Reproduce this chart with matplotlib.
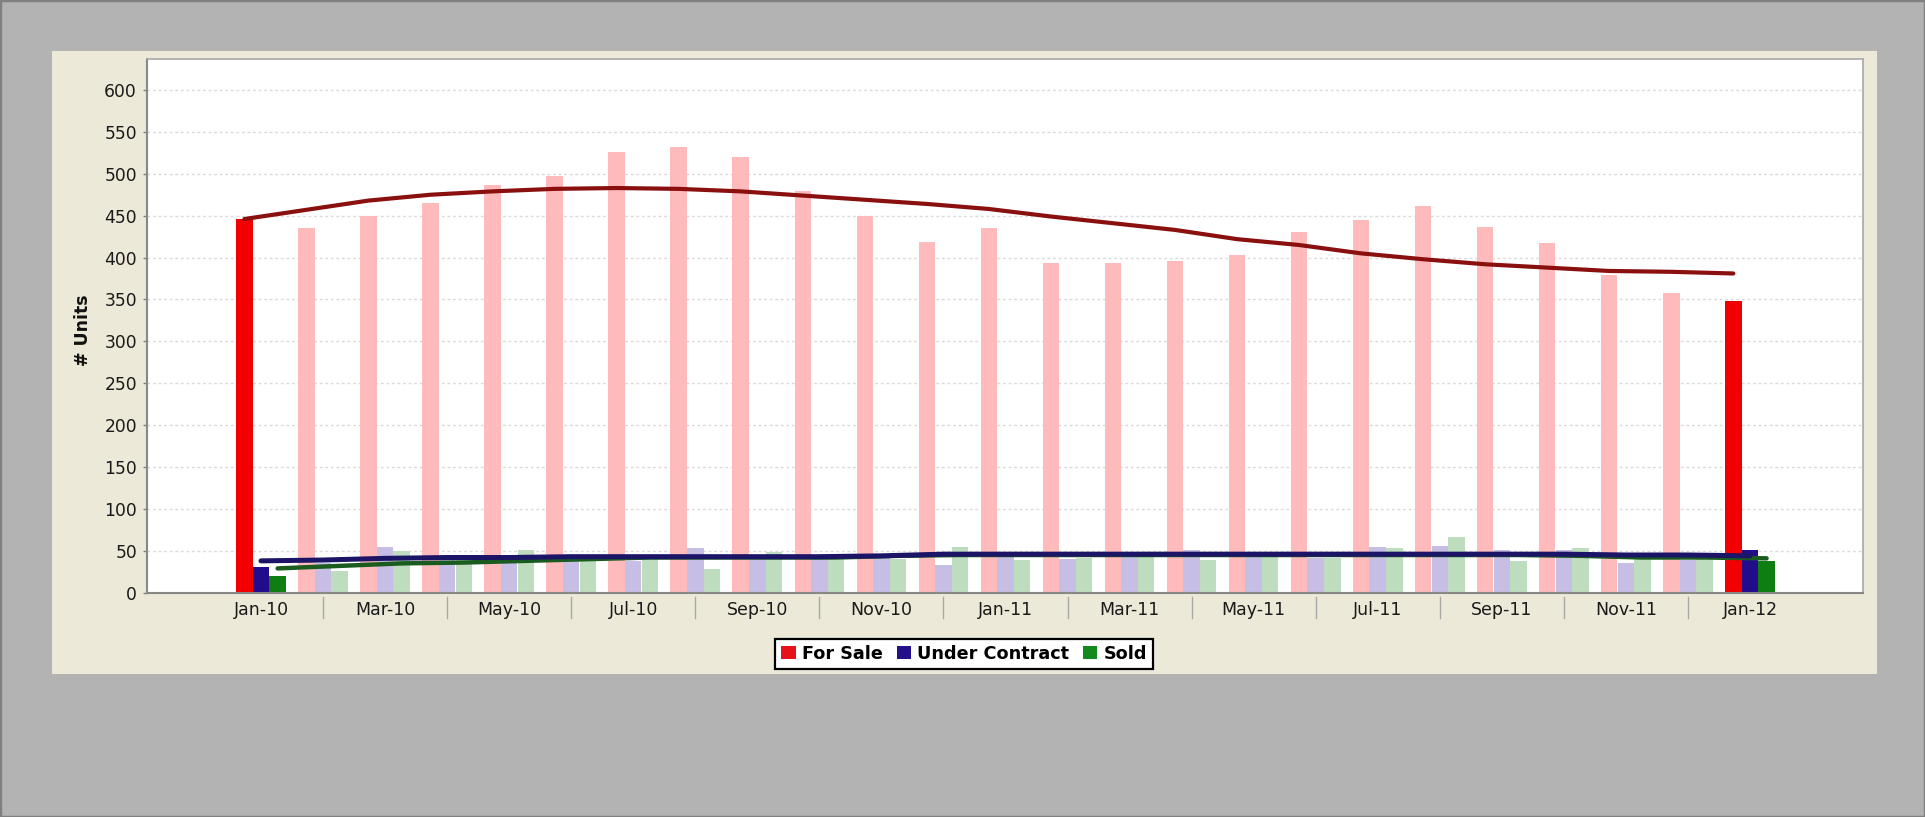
import matplotlib
matplotlib.use("Agg")
import matplotlib.pyplot as plt
from matplotlib.patches import Rectangle, Patch
import numpy as np

plt.rcParams['font.family'] = ['DejaVu Sans']

months = ["Jan-10", "Feb-10", "Mar-10", "Apr-10", "May-10", "Jun-10", "Jul-10", "Aug-10",
          "Sep-10", "Oct-10", "Nov-10", "Dec-10", "Jan-11", "Feb-11", "Mar-11", "Apr-11",
          "May-11", "Jun-11", "Jul-11", "Aug-11", "Sep-11", "Oct-11", "Nov-11", "Dec-11", "Jan-12"]

for_sale = [446, 435, 450, 465, 487, 497, 526, 532, 520, 479, 450, 418, 435, 393, 393, 396,
            403, 430, 445, 462, 437, 417, 379, 358, 348]
under_contract = [31, 36, 55, 42, 38, 40, 38, 53, 44, 42, 42, 33, 44, 40, 44, 51,
                  43, 42, 55, 56, 51, 51, 36, 39, 51]
sold = [20, 26, 50, 40, 51, 40, 40, 28, 49, 42, 40, 55, 39, 42, 43, 39,
        43, 41, 53, 67, 38, 53, 42, 42, 38]

for_sale_trend = [446, 457, 468, 475, 479, 482, 483, 482, 479, 474, 469, 464, 458, 449, 441, 433,
                  422, 415, 405, 398, 392, 388, 384, 383, 381]
under_contract_trend = [38, 39, 41, 42, 42, 43, 43, 43, 43, 43, 44, 46, 46, 46, 46, 46,
                        46, 46, 46, 46, 46, 46, 45, 45, 44]
sold_trend = [29, 32, 35, 36, 38, 40, 42, 42, 42, 42, 44, 45, 45, 45, 45, 45,
              45, 45, 45, 45, 45, 44, 42, 42, 41]

series_labels = ["For Sale", "Under Contract", "Sold"]
y_ticks = list(range(0, 601, 50))

W, H = 1925, 817
fig = plt.figure(figsize=(W / 100, H / 100), dpi=100, facecolor='#B3B3B3')

# outer border
fig.patches.append(Rectangle((0, 0), 1, 1, transform=fig.transFigure, fill=False,
                             edgecolor='#808080', linewidth=2.5, zorder=-10))
# beige panel
bx0, bx1, by0, by1 = 51.7, 1876.7, 50.7, 674.3
fig.patches.append(Rectangle((bx0 / W, 1 - by1 / H), (bx1 - bx0) / W, (by1 - by0) / H,
                             transform=fig.transFigure, facecolor='#ECE9D8',
                             edgecolor='none', zorder=-10))

px0, px1, py0, py1 = 147.3, 1863.3, 59.3, 592.7
ax = fig.add_axes([px0 / W, 1 - py1 / H, (px1 - px0) / W, (py1 - py0) / H])
ax.set_zorder(2)
ax.set_facecolor('white')

x = np.arange(len(months))
n = len(months)
bw = 0.265
off = 0.268

fs_cols = ['#F20000' if i in (0, n - 1) else '#FFBBBB' for i in range(n)]
uc_cols = ['#210D8C' if i in (0, n - 1) else '#C6BEE4' for i in range(n)]
sd_cols = ['#0E7E12' if i in (0, n - 1) else '#BEDDBE' for i in range(n)]

ax.bar(x - off, for_sale, width=bw, color=fs_cols, zorder=2, linewidth=0)
ax.bar(x, under_contract, width=bw, color=uc_cols, zorder=2, linewidth=0)
ax.bar(x + off, sold, width=bw, color=sd_cols, zorder=2, linewidth=0)

ax.plot(x - off, for_sale_trend, color='#8A1010', lw=3.0, zorder=4, solid_capstyle='round')
ax.plot(x + off, sold_trend, color='#1A5C1F', lw=3.2, zorder=4, solid_capstyle='round')
ax.plot(x, under_contract_trend, color='#1C1466', lw=3.6, zorder=5, solid_capstyle='round')

ymax = (py1 - py0) / ((py1 - 90.0) / 600.0)
ax.set_ylim(0, ymax)
ppm = 62.04
ax.set_xlim((px0 - 261.0) / ppm, (px1 - 261.0) / ppm)

ax.set_yticks(y_ticks)
ax.set_yticklabels([str(v) for v in y_ticks])
ax.yaxis.grid(True, color='#DADADA', linestyle=(0, (2, 2)), linewidth=1.0)
ax.xaxis.grid(False)
ax.set_axisbelow(True)

ax.set_xticks(x[::2])
ax.set_xticklabels(months[::2])
ax.tick_params(axis='x', length=0, pad=6, labelsize=12.5, labelcolor='#1A1A1A')
ax.tick_params(axis='y', length=3, width=1, color='#808080', pad=4.5, labelsize=12.3,
               labelcolor='#1A1A1A')

for s in ['top', 'right']:
    ax.spines[s].set_color('#A8A8A8')
    ax.spines[s].set_linewidth(1.2)
for s in ['left', 'bottom']:
    ax.spines[s].set_color('#888888')
    ax.spines[s].set_linewidth(1.5)

# category separators below the axis
ah = py1 - py0
for xi in x[1::2]:
    ax.plot([xi, xi], [-4 / ah, -25.6 / ah], transform=ax.get_xaxis_transform(),
            color='#A8A8A8', lw=1, clip_on=False)

fig.text(83.5 / W, 1 - 330 / H, '# Units', rotation=90, ha='center', va='center',
         fontweight='bold', fontsize=12.5, color='#111111')

handles = [Patch(facecolor='#E8101A', edgecolor='none'),
           Patch(facecolor='#24108A', edgecolor='none'),
           Patch(facecolor='#128A1E', edgecolor='none')]
leg = fig.legend(handles, series_labels, loc='center',
                 bbox_to_anchor=(964.3 / W, 1 - 653.7 / H), ncol=3, frameon=True,
                 fancybox=False, edgecolor='black', facecolor='white', framealpha=1,
                 prop=dict(weight='bold', size=12.7), handlelength=0.8, handleheight=0.8,
                 handletextpad=0.38, columnspacing=0.76, borderpad=0.35, borderaxespad=0)
leg.get_frame().set_linewidth(1.6)

fig.savefig('out.png', dpi=100, facecolor=fig.get_facecolor())
